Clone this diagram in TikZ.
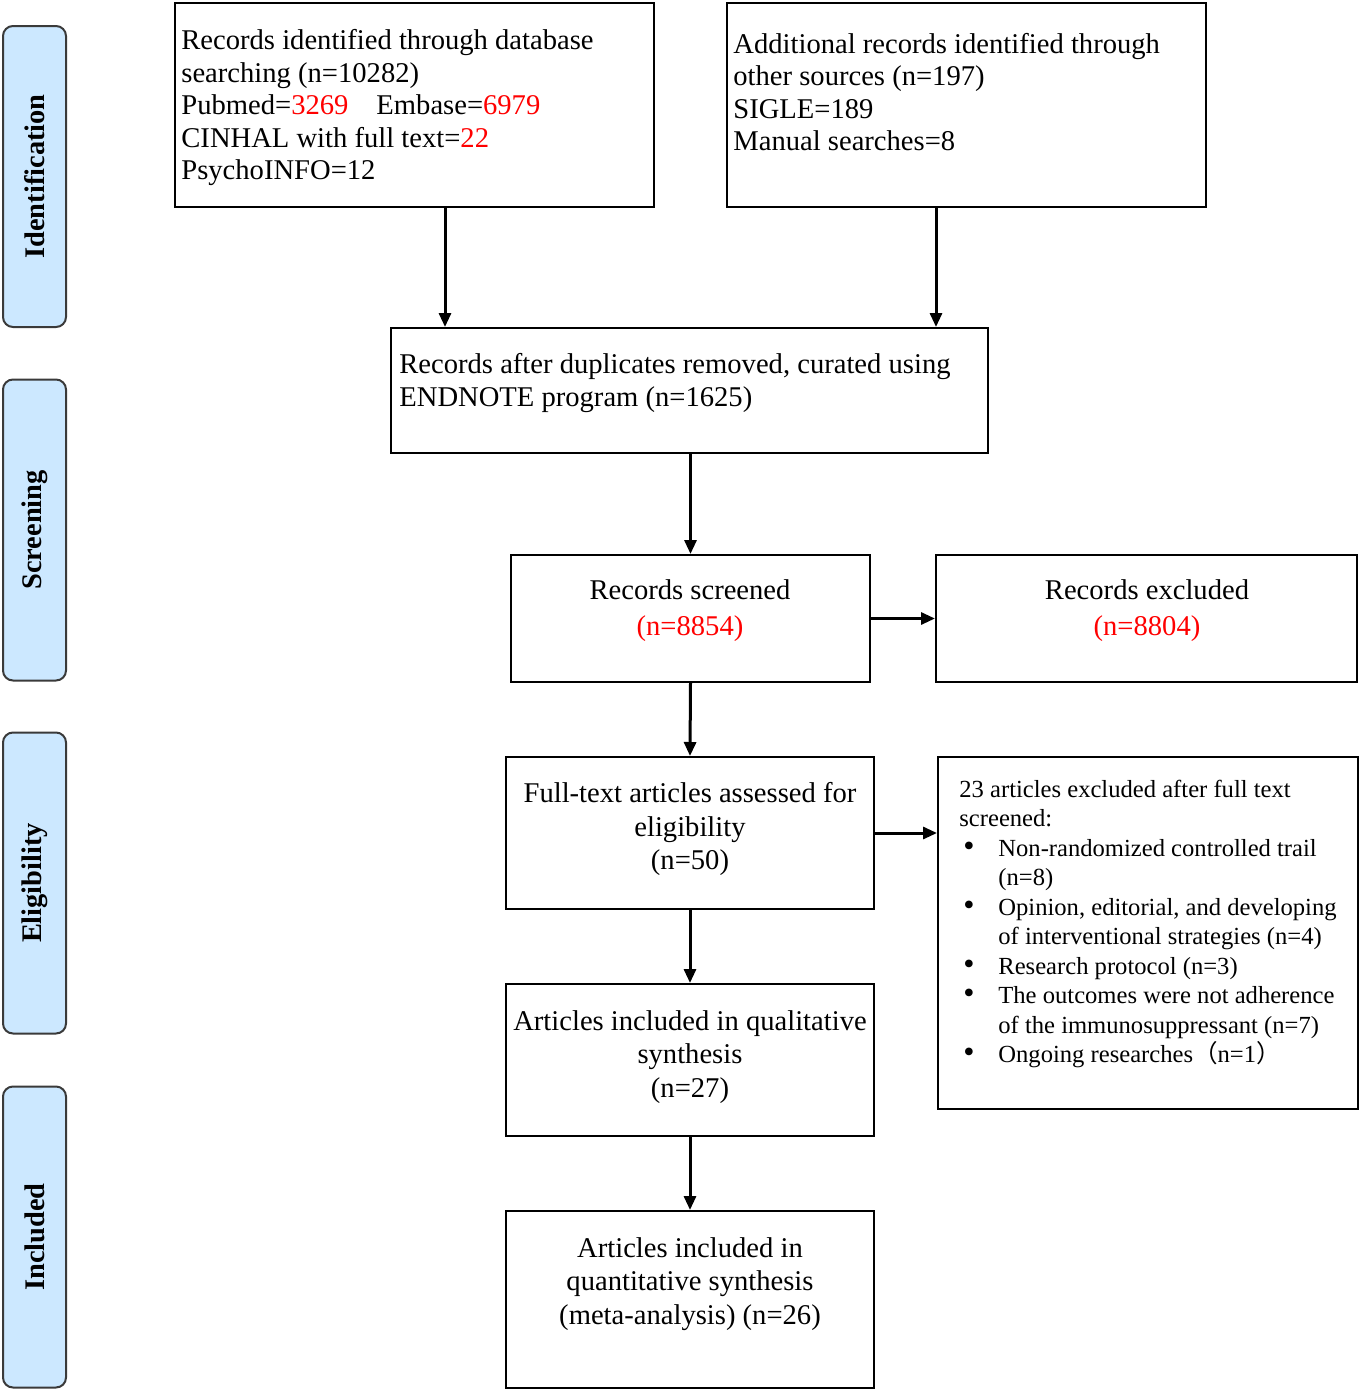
\documentclass[tikz,border=0pt]{standalone}
\usepackage{fontspec}
\setmainfont{Liberation Serif}
\newfontfamily\cjk{Noto Sans CJK SC}
\usetikzlibrary{arrows.meta}
\definecolor{sidefill}{HTML}{CCE8FF}
\definecolor{sidedraw}{HTML}{3A3A3A}
\newcommand\rd[1]{\textcolor{red}{#1}}
\newcommand\bul{\makebox[19.5pt][l]{\hspace{2pt}\scalebox{1.3}{\textbullet}}}
\newcommand\ind{\hspace*{19.5pt}}
\begin{document}
\begin{tikzpicture}[x=0.5pt,y=-0.5pt,
  box/.style={draw=black,line width=1pt,fill=white,inner sep=0pt},
  side/.style={draw=sidedraw,line width=1pt,fill=sidefill,rounded corners=5pt,
    minimum width=31.5pt,minimum height=150.5pt,inner sep=0pt},
  sidetxt/.style={rotate=90,font=\fontsize{14.2}{16}\selectfont\bfseries,inner sep=0pt},
  txt/.style={inner sep=0pt,font=\fontsize{14.3}{16.25}\selectfont},
  txtc/.style={inner sep=0pt,align=center,font=\fontsize{14.3}{16.8}\selectfont},
  txtl/.style={txt,align=left},
  arr/.style={line width=1.5pt,-{Triangle[length=7pt,width=6pt]}}]
\useasboundingbox (0,0) rectangle (1361,1393);
% side labels
\node[side] (s1) at (34.5,176.5) {};
\node[sidetxt] (s1t) at (s1) {Identification};
\node[side] (s2) at (34.5,530) {};
\node[sidetxt] (s2t) at (s2) {Screening};
\node[side] (s3) at (34.5,883) {};
\node[sidetxt] (s3t) at (s3) {Eligibility};
\node[side] (s4) at (34.5,1237) {};
\node[sidetxt] (s4t) at (s4) {Included};
% boxes
\node[box,minimum width=239.5pt,minimum height=102pt] (A) at (414.5,105) {};
\node[box,minimum width=239.5pt,minimum height=102pt] (B) at (966.5,105) {};
\node[box,minimum width=298.5pt,minimum height=62.5pt] (C) at (689.5,390.5) {};
\node[box,minimum width=179.5pt,minimum height=63.5pt] (D) at (690.5,618.5) {};
\node[box,minimum width=210.5pt,minimum height=63.5pt] (E) at (1146.5,618.5) {};
\node[box,minimum width=184pt,minimum height=76pt] (F) at (690,833) {};
\node[box,minimum width=210pt,minimum height=176pt] (G) at (1148,933) {};
\node[box,minimum width=184pt,minimum height=76pt] (H) at (690,1060) {};
\node[box,minimum width=184pt,minimum height=88.5pt] (I) at (690,1299.5) {};
% texts
\node[txtl,anchor=west] (At) at (181,108) {Records identified through database\\searching (n=10282)\\Pubmed=\rd{3269}\hspace{14pt}Embase=\rd{6979}\\CINHAL with full text=\rd{22}\\PsychoINFO=12};
\node[txtl,anchor=west] (Bt) at (733,92) {Additional records identified through\\other sources (n=197)\\SIGLE=189\\Manual searches=8};
\node[txtl,anchor=west] (Ct) at (399,383) {Records after duplicates removed, curated using\\ENDNOTE program (n=1625)};
\node[txtc,font=\fontsize{14.3}{18}\selectfont] (Dt) at (690,611) {Records screened\\\rd{(n=8854)}};
\node[txtc,font=\fontsize{14.3}{18}\selectfont] (Et) at (1147,611) {Records excluded\\\rd{(n=8804)}};
\node[txtc] (Ft) at (690,829) {Full-text articles assessed for\\eligibility\\(n=50)};
\node[txtc] (Ht) at (690,1057) {Articles included in qualitative\\synthesis\\(n=27)};
\node[txtc] (It) at (690,1284) {Articles included in\\quantitative synthesis\\(meta-analysis) (n=26)};
\node[inner sep=0pt,align=left,anchor=west,font=\fontsize{12.3}{14.75}\selectfont] (Gt) at (959,924)
 {23 articles excluded after full text\\screened:\\
  \bul Non-randomized controlled trail\\\ind(n=8)\\
  \bul Opinion, editorial, and developing\\\ind of interventional strategies (n=4)\\
  \bul Research protocol (n=3)\\
  \bul The outcomes were not adherence\\\ind of the immunosuppressant (n=7)\\
  \bul Ongoing researches{\cjk（}n=1{\cjk）}};
% connectors
\coordinate (xa) at (445,0);
\coordinate (xb) at (936,0);
\draw[arr] (A.south -| xa) -- (C.north -| xa);
\draw[arr] (B.south -| xb) -- (C.north -| xb);
\draw[arr] (C.south -| D.north) -- (D.north);
\draw[arr] (D.east) -- (E.west);
\draw[arr] (D.south) -- (F.north);
\draw[arr] (F.east) -- (F.east -| G.west);
\draw[arr] (F.south) -- (H.north);
\draw[arr] (H.south) -- (I.north);
\end{tikzpicture}
\end{document}
